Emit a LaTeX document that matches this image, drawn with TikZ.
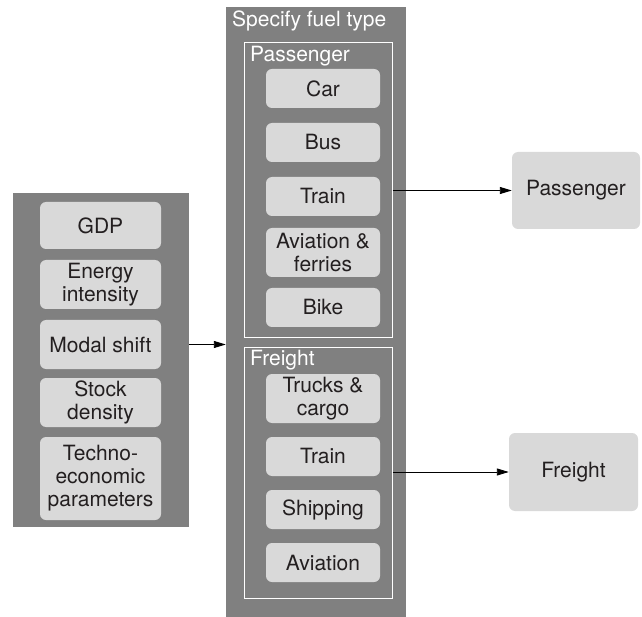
\documentclass[tikz,border=0pt]{standalone}
\usepackage{fontspec}
\setmainfont{TeX Gyre Heros}
\usetikzlibrary{arrows.meta}
\definecolor{panelgray}{HTML}{808080}
\definecolor{boxgray}{HTML}{D9D9D9}
\definecolor{txt}{HTML}{231F20}
\tikzset{
  panel/.style={fill=panelgray, draw=none, inner sep=0pt},
  frame/.style={draw=white, line width=1pt, fill=none, inner sep=0pt},
  item/.style={fill=boxgray, draw=none, rounded corners=6pt, text=txt, align=center,
    font=\fontsize{21}{23}\selectfont, inner sep=0pt},
  lbl/.style={text=white, font=\fontsize{21}{23}\selectfont, inner sep=0pt, anchor=base west},
  conn/.style={draw=black, line width=0.9pt, -{Triangle[length=12pt,width=7pt]}}
}
\begin{document}
\begin{tikzpicture}[x=1pt,y=-1pt]
\useasboundingbox (0,0) rectangle (642,617);
% left panel
\node[panel, minimum width=176pt, minimum height=334pt] (lp) at (101,360) {};
\node[item, minimum width=121pt, minimum height=47pt] (gdp) at (100.5,225.5) {GDP};
\node[item, minimum width=121pt, minimum height=49pt] (ei) at (100.5,284.5) {Energy\\intensity};
\node[item, minimum width=121pt, minimum height=49pt] (ms) at (100.5,344.5) {Modal shift};
\node[item, minimum width=121pt, minimum height=49pt] (sd) at (100.5,402.5) {Stock\\density};
\node[item, minimum width=121pt, minimum height=83pt] (te) at (100.5,478.5) {Techno-\\economic\\parameters};
% middle panel
\node[panel, minimum width=180pt, minimum height=610pt] (mp) at (316,312) {};
\node[lbl] (sft) at (232,27) {Specify fuel type};
\node[frame, minimum width=148pt, minimum height=294pt] (pf) at (318,190) {};
\node[lbl] (pl) at (250,62) {Passenger};
\node[item, minimum width=114pt, minimum height=39pt] (car) at (323,88.5) {Car};
\node[item, minimum width=114pt, minimum height=39pt] (bus) at (323,142.5) {Bus};
\node[item, minimum width=114pt, minimum height=39pt] (tr1) at (323,196.5) {Train};
\node[item, minimum width=114pt, minimum height=49pt] (avf) at (323,252.5) {Aviation \&\\ferries};
\node[item, minimum width=114pt, minimum height=39pt] (bike) at (323,307.5) {Bike};
\node[frame, minimum width=148pt, minimum height=251pt] (ff) at (318,472.5) {};
\node[lbl] (fl) at (250,365) {Freight};
\node[item, minimum width=114pt, minimum height=49pt] (tc) at (323,398.5) {Trucks \&\\cargo};
\node[item, minimum width=114pt, minimum height=39pt] (tr2) at (323,456.5) {Train};
\node[item, minimum width=114pt, minimum height=39pt] (ship) at (323,509.5) {Shipping};
\node[item, minimum width=114pt, minimum height=39pt] (av) at (323,562.5) {Aviation};
% right boxes
\node[item, minimum width=128pt, minimum height=77pt] (pout) at (576,190.5) {Passenger};
\node[item, minimum width=129pt, minimum height=78pt] (fout) at (573.5,472) {Freight};
% connectors
\draw[conn] (ms -| lp.east) -- (ms -| mp.west);
\draw[conn] (pout.west -| pf.east) -- (pout.west);
\draw[conn] (fout.west -| ff.east) -- (fout.west);
\end{tikzpicture}
\end{document}
